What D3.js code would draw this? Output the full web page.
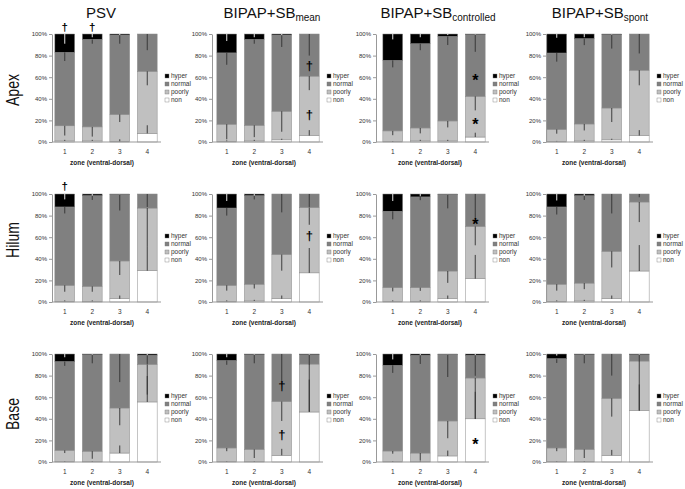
<!DOCTYPE html>
<html>
<head>
<meta charset="utf-8">
<script src="https://cdn.jsdelivr.net/npm/d3@7"></script>
<style>
  body { margin: 0; background: #fff; }
  text { font-family: "Liberation Sans", Arial, sans-serif; }
</style>
</head>
<body>
<svg id="chart"></svg>
<script>
var width = 685;
var height = 489;

var regions = ["Apex", "Hilum", "Base"];
var modeMain = ["PSV", "BIPAP+SB", "BIPAP+SB", "BIPAP+SB"];
var modeSub = ["", "mean", "controlled", "spont"];
var zones = ["1", "2", "3", "4"];
var seriesKeys = ["non", "poorly", "normal", "hyper"];
var legendKeys = ["hyper", "normal", "poorly", "non"];
var yTicks = [0, 20, 40, 60, 80, 100];

// values in %, [region][mode][zone]
var nonVal = [
  [[1, 1, 0.5, 8], [0.5, 1, 2, 6], [0.3, 1, 1, 4.6], [0.5, 1, 2, 6]],
  [[0.5, 0.5, 3, 29], [0.5, 1, 3, 27], [0.5, 0.5, 3, 21.6], [0.5, 1, 3, 28.7]],
  [[0.3, 0.3, 8.3, 55.6], [0.3, 0.3, 6.2, 46.3], [0.3, 0.3, 5.6, 40], [0.3, 0.3, 6.2, 47.8]]
];
var poorlyVal = [
  [[14, 13, 25, 57.5], [16, 14.5, 26.5, 55], [10, 12, 18.5, 37.7], [11.2, 15.7, 29.5, 60.5]],
  [[15, 14, 35, 58], [15, 15.5, 41, 60.5], [12.8, 12.8, 25.7, 48.4], [16, 16.5, 44, 63.9]],
  [[10.5, 9.7, 41.7, 34.8], [12.7, 11.4, 49.8, 44.4], [9.9, 8, 32.4, 37.8], [12.7, 11.4, 52.8, 45.7]]
];
var normalVal = [
  [[68, 81, 73.5, 34.5], [66, 79.5, 70.5, 39], [65.3, 78, 78.3, 57.2], [70.7, 79, 68, 33.5]],
  [[72.5, 84, 61.7, 13], [71.5, 82, 56, 12.5], [70.7, 84, 71, 30], [71.5, 81, 53, 7.4]],
  [[82.2, 89.4, 50, 8.4], [81, 87.7, 44, 8.7], [79.3, 90.5, 61.7, 21], [82.7, 87.7, 41, 5.9]]
];
var hyperVal = [
  [[17, 5, 1, 0], [17.5, 5, 1, 0], [24.4, 9, 2.2, 0.5], [17.6, 4.3, 0.5, 0]],
  [[12, 1.5, 0.3, 0], [13, 1.5, 0, 0], [16, 2.7, 0.3, 0], [12, 1.5, 0, 0]],
  [[7, 0.6, 0, 1.2], [6, 0.6, 0, 0.6], [10.5, 1.2, 0.3, 1.2], [4.3, 0.6, 0, 0.6]]
];

// error bars (SD), same layout
var nonErr = [
  [[1, 1, 2, 7.5], [1, 1, 1, 5], [0.5, 1, 1, 4], [0.5, 1, 1, 5]],
  [[1, 1, 3, 22], [1, 1, 3, 23], [1, 1, 3, 22], [1, 1, 3, 24]],
  [[0.5, 0.5, 7, 24], [0.5, 0.5, 6, 30], [0.5, 0.5, 5, 25], [0.5, 0.5, 5, 24]]
];
var poorlyErr = [
  [[9, 9, 7, 13], [14, 11, 19, 13], [4, 5, 6, 13], [4, 6, 13, 14]],
  [[6, 5, 13, 36], [5, 4, 15, 16], [3.5, 3, 11, 17.5], [6, 5.6, 15, 18.6]],
  [[2.5, 7, 16, 28], [3, 8, 18, 44], [2.5, 7, 16, 38], [3, 8, 17, 46]]
];
var normalErr = [
  [[8, 4, 8, 15], [11, 4, 11, 20], [6.5, 6, 8, 16], [8, 6, 13, 18]],
  [[6, 4, 15, 12], [7, 3.5, 17, 12], [7.5, 3, 13, 23], [7, 4, 18, 3]],
  [[4, 8, 26, 8], [4, 8, 25, 9], [7, 8, 21, 19], [4, 8, 20, 6]]
];
var hyperErr = [
  [[9, 3, 1, 0], [6.5, 3, 1, 0], [5, 3, 1, 0.5], [3.5, 3, 0.5, 0]],
  [[5, 1.5, 0.3, 0], [6.5, 1.5, 0, 0], [6.5, 2, 0.3, 0], [6, 1.5, 0, 0]],
  [[3, 0.6, 0, 1], [3, 0.6, 0, 0.6], [5, 1, 0.3, 1], [1.5, 0.6, 0, 0.6]]
];

// significance marks
var noteRegion = [0, 0, 0, 0, 0, 0, 1, 1, 1, 2, 2, 2];
var noteMode = [0, 0, 1, 1, 2, 2, 0, 1, 2, 1, 1, 2];
var noteZone = ["1", "2", "4", "4", "4", "4", "1", "4", "4", "3", "3", "4"];
var noteLevel = [107, 107, 71, 26, 61, 20, 107.5, 62, 76, 71, 26, 20];
var noteSym = ["†", "†", "†", "†", "*", "*", "†", "†", "*", "†", "†", "*"];

var values = {non: nonVal, poorly: poorlyVal, normal: normalVal, hyper: hyperVal};
var errors = {non: nonErr, poorly: poorlyErr, normal: normalErr, hyper: hyperErr};
var colors = {hyper: '#000000', normal: '#808080', poorly: '#c0c0c0', non: '#ffffff'};
var errColors = {hyper: '#ffffff', normal: '#303030', poorly: '#303030', non: '#303030'};

var colAxis = [52, 212, 376, 546];
var colShift = [-1, 1, 3, -3];
var titleShift = [-5, 4, 4, 2];
var rowTop = [34, 194, 354];
var rowLabelY = [90, 240, 414];
var plotW = 110;
var plotH = 108;

var svg = d3.select('#chart')
    .attr('width', width)
    .attr('height', height);

var stack = d3.stack().keys(seriesKeys);

// column titles
modeMain.forEach(function(m, c){
    var cx = colAxis[c] + colShift[c] + plotW / 2 + titleShift[c];
    var t = svg.append('text')
        .attr('x', cx)
        .attr('y', 17.5)
        .attr('text-anchor', 'middle')
        .attr('font-size', 15)
        .attr('fill', '#111');
    t.append('tspan').text(m);
    if (modeSub[c]) {
        t.append('tspan').attr('font-size', 10).attr('dy', 3).text(modeSub[c]);
    }
});

// row labels
regions.forEach(function(name, r){
    svg.append('text')
        .attr('transform', 'translate(19,' + rowLabelY[r] + ') rotate(-90) scale(0.78,1)')
        .attr('text-anchor', 'middle')
        .attr('font-size', 18)
        .attr('fill', '#111')
        .text(name);
});

regions.forEach(function(region, r){
    modeMain.forEach(function(m, c){
        var g = svg.append('g');
        var x0 = colAxis[c] + colShift[c];
        var x = d3.scaleBand().domain(zones)
            .range([x0, x0 + plotW])
            .paddingInner(0.28).paddingOuter(0.14);
        var y = d3.scaleLinear().domain([0, 100])
            .range([rowTop[r] + plotH, rowTop[r]]);

        var rows = zones.map(function(z, i){
            var o = {zone: z};
            seriesKeys.forEach(function(k){ o[k] = values[k][r][c][i]; });
            return o;
        });
        var layers = stack(rows);

        layers.forEach(function(layer){
            g.selectAll(null)
                .data(layer)
                .enter().append('rect')
                .attr('x', function(d){ return x(d.data.zone); })
                .attr('y', function(d){ return y(d[1]); })
                .attr('width', x.bandwidth())
                .attr('height', function(d){ return Math.max(0, y(d[0]) - y(d[1])); })
                .style('fill', colors[layer.key])
                .style('stroke', '#8a8a8a')
                .style('stroke-width', 0.5);
        });

        // error bars: downward from segment top, upward for "non"
        layers.forEach(function(layer){
            var k = layer.key;
            layer.forEach(function(d, i){
                var e = errors[k][r][c][i];
                if (e <= 0 || d[1] - d[0] <= 0) return;
                var top = d[1];
                var end = k === 'non' ? Math.min(100, top + e) : Math.max(0, top - e);
                var cx = x(d.data.zone) + x.bandwidth() / 2;
                g.append('line')
                    .attr('x1', cx).attr('x2', cx)
                    .attr('y1', y(top)).attr('y2', y(end))
                    .style('stroke', errColors[k])
                    .style('stroke-width', 0.9);
            });
        });

        // y axis
        var ya = g.append('g')
            .attr('transform', 'translate(' + colAxis[c] + ',0)')
            .call(d3.axisLeft(y).tickValues(yTicks)
                .tickFormat(function(d){ return d + '%'; })
                .tickSize(3).tickSizeOuter(0).tickPadding(2));
        ya.select('.domain').style('stroke', '#999');
        ya.selectAll('.tick line').style('stroke', '#999');
        ya.selectAll('.tick text').attr('font-size', 6).attr('fill', '#333')
            .style('font-family', '"Liberation Sans", Arial, sans-serif');

        // x axis
        g.append('line')
            .attr('x1', colAxis[c]).attr('x2', x0 + plotW)
            .attr('y1', y(0)).attr('y2', y(0))
            .style('stroke', '#999');
        var xa = g.append('g')
            .attr('transform', 'translate(0,' + y(0) + ')')
            .call(d3.axisBottom(x).tickSize(0).tickPadding(7));
        xa.select('.domain').remove();
        xa.selectAll('.tick text').attr('font-size', 6.5).attr('fill', '#333')
            .style('font-family', '"Liberation Sans", Arial, sans-serif');

        g.append('text')
            .attr('x', x0 + plotW / 2 - 4)
            .attr('y', y(0) + 23)
            .attr('text-anchor', 'middle')
            .attr('font-size', 6.5)
            .attr('font-weight', 'bold')
            .attr('fill', '#222')
            .text('zone (ventral-dorsal)');

        // legend
        var lx = x0 + plotW + 4;
        legendKeys.forEach(function(k, i){
            var ly = rowTop[r] + 42 + i * 8;
            g.append('rect')
                .attr('x', lx).attr('y', ly - 2)
                .attr('width', 4).attr('height', 4)
                .style('fill', colors[k])
                .style('stroke', '#777')
                .style('stroke-width', 0.4);
            g.append('text')
                .attr('x', lx + 6).attr('y', ly)
                .attr('dy', '0.35em')
                .attr('font-size', 6.5)
                .attr('fill', '#333')
                .text(k);
        });

        // significance marks
        noteSym.forEach(function(s, n){
            if (noteRegion[n] !== r || noteMode[n] !== c) return;
            var above = noteLevel[n] > 100;
            g.append('text')
                .attr('x', x(noteZone[n]) + x.bandwidth() / 2)
                .attr('y', y(noteLevel[n]))
                .attr('dy', s === '*' ? '0.62em' : '0.36em')
                .attr('text-anchor', 'middle')
                .attr('font-size', s === '*' ? 16 : (above ? 11.5 : 13))
                .attr('font-weight', 'bold')
                .attr('fill', '#000')
                .text(s);
        });
    });
});
</script>
</body>
</html>
